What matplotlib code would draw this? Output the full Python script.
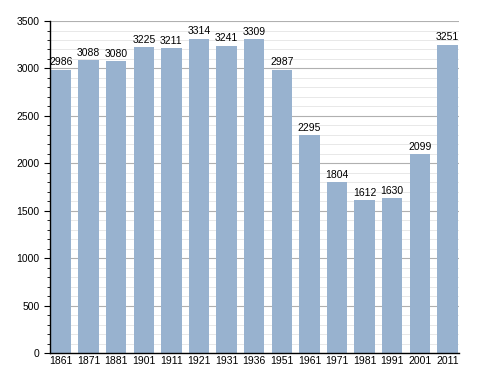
import matplotlib
matplotlib.use("Agg")
import matplotlib.pyplot as plt
from matplotlib.ticker import MultipleLocator

years = ["1861", "1871", "1881", "1901", "1911", "1921", "1931", "1936",
         "1951", "1961", "1971", "1981", "1991", "2001", "2011"]
population = [2986, 3088, 3080, 3225, 3211, 3314, 3241, 3309,
              2987, 2295, 1804, 1612, 1630, 2099, 3251]

plt.rcParams["font.family"] = ["Liberation Sans", "DejaVu Sans"]

fig = plt.figure(figsize=(4.88, 3.73), dpi=100)
ax = fig.add_axes([0.1025, 0.0536, 0.838, 0.890])

x = range(len(years))
ax.bar(x, population, width=0.74, color="#98b2cf", zorder=2)
for i, v in zip(x, population):
    ax.text(i, v + 25, str(v), ha="center", va="bottom", fontsize=7.5, zorder=3)

ax.set_xlim(-0.40, 14.42)
ax.set_ylim(0, 3500)
ax.set_xticks(list(x))
ax.set_xticklabels(years, fontsize=7.5)
ax.tick_params(axis="x", length=0, pad=2)
ax.yaxis.set_major_locator(MultipleLocator(500))
ax.yaxis.set_minor_locator(MultipleLocator(100))
ax.tick_params(axis="y", labelsize=7.5, length=4, width=0.8, direction="out")
ax.tick_params(axis="y", which="minor", length=2, width=0.6)
ax.grid(axis="y", which="major", color="#b0b0b0", lw=0.8, zorder=0)
ax.grid(axis="y", which="minor", color="#e4e4e4", lw=0.6, zorder=0)
for side in ("top", "right"):
    ax.spines[side].set_visible(False)
ax.spines["left"].set_linewidth(1.0)
ax.spines["bottom"].set_linewidth(1.0)

fig.savefig("out.png", dpi=100)
